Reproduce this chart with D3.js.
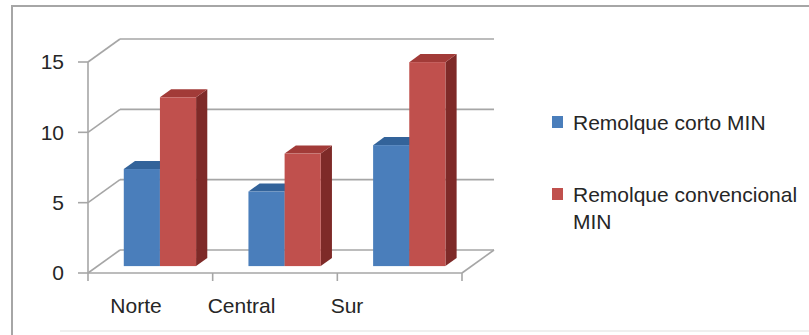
<!DOCTYPE html>
<html>
<head>
<meta charset="utf-8">
<script src="https://cdn.jsdelivr.net/npm/d3@7"></script>
<style>
	body { margin: 0; background: #fff; }
	text { font-family: "Liberation Sans", Arial, sans-serif; fill: #262626; }
</style>
</head>
<body>
<svg id="chart"></svg>
<script>
const categories = ["Norte", "Central", "Sur"];
const series = ["Remolque corto MIN", "Remolque convencional MIN"];
const cortoValues = [6.9, 5.3, 8.6];
const convencionalValues = [12, 8, 14.5];
const yTicks = [0, 5, 10, 15];

const width = 809, height = 335;
const svg = d3.select("#chart").attr("width", width).attr("height", height);

// depth of the 3d box
const depthX = 32, depthY = -23;

const x0 = d3.scaleBand().domain(categories).range([88, 462])
		.paddingInner(0.42).paddingOuter(0.21);
const x1 = d3.scaleBand().domain(series).range([0, x0.bandwidth()]);
const y = d3.scaleLinear().domain([0, 15]).range([273, 62]);
const labelX = d3.scalePoint().domain(categories).range([136, 347]);

const colors = {
	"Remolque corto MIN": { front: "#4a7ebb", top: "#33639a", side: "#2b5586" },
	"Remolque convencional MIN": { front: "#c0504d", top: "#a23b38", side: "#7e2a28" }
};

// outer frame
svg.append("path")
	.attr("d", "M12,335 L12,6 L809,6")
	.attr("fill", "none").attr("stroke", "#a6a6a6").attr("stroke-width", 2);
svg.append("line")
	.attr("x1", 60).attr("x2", 809).attr("y1", 331).attr("y2", 331)
	.attr("stroke", "#efefef").attr("stroke-width", 2);

const grid = svg.append("g").attr("stroke", "#a6a6a6").attr("stroke-width", 1.6).attr("fill", "none");
const xMin = x0.range()[0], xMax = x0.range()[1];

// back wall gridlines and left wall diagonals
yTicks.forEach(function(v) {
	grid.append("line")
		.attr("x1", xMin + depthX).attr("x2", xMax + depthX)
		.attr("y1", y(v) + depthY).attr("y2", y(v) + depthY);
	grid.append("line")
		.attr("x1", xMin).attr("x2", xMin + depthX)
		.attr("y1", y(v)).attr("y2", y(v) + depthY);
});

// floor front and right edges, left axis
grid.append("line").attr("x1", xMin).attr("x2", xMax).attr("y1", y(0)).attr("y2", y(0));
grid.append("line").attr("x1", xMax).attr("x2", xMax + depthX).attr("y1", y(0)).attr("y2", y(0) + depthY);
grid.append("line").attr("x1", xMin).attr("x2", xMin).attr("y1", y(0)).attr("y2", y(15));

// y ticks
yTicks.forEach(function(v) {
	grid.append("line").attr("x1", xMin - 10).attr("x2", xMin).attr("y1", y(v)).attr("y2", y(v));
	svg.append("text")
		.attr("x", 64).attr("y", y(v)).attr("dy", "0.35em")
		.attr("text-anchor", "end").attr("font-size", 21)
		.text(v);
});

// x ticks
const step = x0.step();
d3.range(categories.length + 1).forEach(function(i) {
	const tx = xMin + step * i;
	grid.append("line").attr("x1", tx).attr("x2", tx).attr("y1", y(0)).attr("y2", y(0) + 8);
});

categories.forEach(function(c) {
	svg.append("text")
		.attr("x", labelX(c)).attr("y", 313)
		.attr("text-anchor", "middle").attr("font-size", 21)
		.text(c);
});

// bars sit in the middle of the depth
const t0 = 0.3, t1 = 0.65;
const bars = [];
categories.forEach(function(c, i) {
	bars.push({ cat: c, s: series[0], value: cortoValues[i] });
	bars.push({ cat: c, s: series[1], value: convencionalValues[i] });
});

const barG = svg.append("g");
bars.forEach(function(d) {
	const xl = x0(d.cat) + x1(d.s) + depthX * t0;
	const xr = xl + x1.bandwidth();
	const yb = y(0) + depthY * t0;
	const yt = y(d.value) + depthY * t0;
	const dx = depthX * (t1 - t0), dy = depthY * (t1 - t0);
	const col = colors[d.s];
	barG.append("path")
		.attr("d", `M${xr},${yb} L${xr + dx},${yb + dy} L${xr + dx},${yt + dy} L${xr},${yt} Z`)
		.attr("fill", col.side);
	barG.append("path")
		.attr("d", `M${xl},${yt} L${xr},${yt} L${xr + dx},${yt + dy} L${xl + dx},${yt + dy} Z`)
		.attr("fill", col.top);
	barG.append("rect")
		.attr("x", xl).attr("y", yt)
		.attr("width", x1.bandwidth()).attr("height", yb - yt)
		.attr("fill", col.front);
});

// legend
const legend = svg.append("g");
const legendY = [116, 188];
series.forEach(function(s, i) {
	legend.append("rect")
		.attr("x", 552).attr("y", legendY[i])
		.attr("width", 11).attr("height", 12)
		.attr("fill", colors[s].front);
});
legend.append("text").attr("x", 573).attr("y", 130).attr("font-size", 21)
	.text("Remolque corto MIN");
const lt = legend.append("text").attr("x", 573).attr("y", 202).attr("font-size", 21);
lt.append("tspan").attr("x", 573).text("Remolque convencional");
lt.append("tspan").attr("x", 573).attr("dy", 27).text("MIN");
</script>
</body>
</html>
